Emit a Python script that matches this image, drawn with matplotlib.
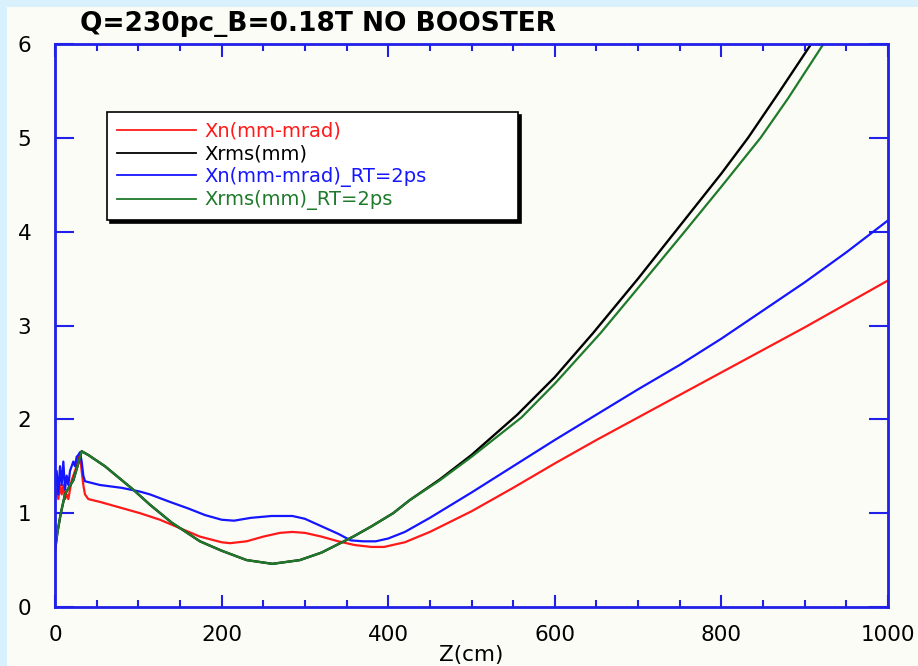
import matplotlib.pyplot as plt
from matplotlib.patches import Rectangle
from matplotlib.ticker import MultipleLocator

# beam size / emittance along z, with and without 2 ps rise time
z_xn = [0, 2, 4, 6, 8, 10, 12, 14, 16, 18, 20, 22, 24, 26, 28, 30, 32, 34, 36, 40,
        54, 70, 102, 126, 150, 174, 200, 210, 230, 250, 270, 285, 300, 320, 340, 360,
        380, 395, 420, 450, 500, 550, 600, 650, 700, 750, 800, 850, 900, 950, 1000]
xn = [1.15, 1.25, 1.15, 1.3, 1.2, 1.3, 1.15, 1.2, 1.15, 1.25, 1.35, 1.4, 1.45, 1.5, 1.6, 1.62, 1.45, 1.3, 1.2, 1.15,
      1.12, 1.08, 1.0, 0.93, 0.84, 0.75, 0.69, 0.68, 0.7, 0.75, 0.79, 0.8, 0.79, 0.75, 0.7, 0.66,
      0.64, 0.64, 0.69, 0.8, 1.02, 1.27, 1.53, 1.78, 2.02, 2.26, 2.5, 2.74, 2.98, 3.23, 3.48]

z_xn_rt = [0, 2, 4, 6, 8, 10, 12, 14, 16, 18, 20, 22, 24, 26, 28, 30, 32, 34, 36, 54,
           80, 102, 114, 138, 160, 180, 200, 215, 235, 260, 285, 300, 320, 340, 355, 370,
           385, 400, 420, 450, 500, 550, 600, 650, 700, 750, 800, 850, 900, 950, 1000]
xn_rt = [1.25, 1.45, 1.2, 1.5, 1.3, 1.55, 1.25, 1.4, 1.3, 1.45, 1.5, 1.55, 1.5, 1.6, 1.62, 1.65, 1.55, 1.4, 1.34, 1.3,
         1.27, 1.23, 1.2, 1.12, 1.05, 0.98, 0.93, 0.92, 0.95, 0.97, 0.97, 0.94, 0.86, 0.78, 0.71, 0.7,
         0.7, 0.73, 0.8, 0.95, 1.22, 1.5, 1.78, 2.05, 2.32, 2.58, 2.86, 3.16, 3.46, 3.78, 4.12]

z_xrms = [0, 3, 7, 12, 17, 22, 27, 32, 40, 60, 94, 114, 140, 174, 200, 230, 261, 294,
          320, 358, 380, 406, 426, 462, 500, 555, 600, 646, 700, 741, 800, 832, 868, 904, 910]
xrms = [0.6, 0.8, 1.0, 1.2, 1.28, 1.35, 1.5, 1.66, 1.62, 1.5, 1.25, 1.09, 0.9, 0.7, 0.6, 0.5, 0.46, 0.5,
        0.58, 0.75, 0.86, 1.0, 1.14, 1.36, 1.62, 2.05, 2.45, 2.92, 3.5, 3.96, 4.62, 5.0, 5.47, 5.95, 6.03]

z_xrms_rt = [0, 3, 7, 12, 17, 22, 27, 32, 40, 60, 94, 114, 140, 174, 200, 230, 261, 294,
             320, 358, 380, 406, 426, 462, 500, 560, 600, 655, 700, 754, 800, 847, 880, 921, 927]
xrms_rt = [0.6, 0.8, 1.0, 1.2, 1.28, 1.35, 1.5, 1.66, 1.62, 1.5, 1.25, 1.09, 0.9, 0.7, 0.6, 0.5, 0.46, 0.5,
           0.58, 0.75, 0.86, 1.0, 1.14, 1.35, 1.6, 2.02, 2.38, 2.92, 3.4, 3.98, 4.48, 5.0, 5.42, 5.98, 6.05]

panel = '#fcfcf7'
frame_blue = '#2020e8'
font = 'DejaVu Sans'

fig = plt.figure(figsize=(9.18, 6.66), dpi=100, facecolor=panel)
# light blue strips along the top and left edge
fig.patches.append(Rectangle((0, 0), 7 / 918, 1, transform=fig.transFigure,
                             facecolor='#d9f1fc', edgecolor='none', zorder=0))
fig.patches.append(Rectangle((0, 1 - 7 / 666), 1, 7 / 666, transform=fig.transFigure,
                             facecolor='#d9f1fc', edgecolor='none', zorder=0))

ax = fig.add_axes([55 / 918, 59 / 666, 833 / 918, 563 / 666])
ax.set_facecolor(panel)

ax.plot(z_xn, xn, color='#ff1a1a', lw=1.6, label='Xn(mm-mrad)')
ax.plot(z_xrms, xrms, color='black', lw=1.7, label='Xrms(mm)')
ax.plot(z_xn_rt, xn_rt, color='#1515ff', lw=1.6, label='Xn(mm-mrad)_RT=2ps')
ax.plot(z_xrms_rt, xrms_rt, color='#1f7a2a', lw=1.6, label='Xrms(mm)_RT=2ps')

ax.set_xlim(0, 1000)
ax.set_ylim(0, 6)
ax.xaxis.set_major_locator(MultipleLocator(200))
ax.xaxis.set_minor_locator(MultipleLocator(50))
ax.yaxis.set_major_locator(MultipleLocator(1))

for s in ax.spines.values():
    s.set_color(frame_blue)
    s.set_linewidth(2)

ax.tick_params(axis='x', which='major', direction='in', length=9, width=1.5,
               color=frame_blue, top=True, labelsize=15.5, pad=13)
ax.tick_params(axis='x', which='minor', direction='in', length=5, width=1.5,
               color=frame_blue, top=True)
ax.tick_params(axis='y', which='major', direction='in', length=14, width=1.5,
               color=frame_blue, right=True, labelsize=15.5, pad=17)
for lab in ax.get_xticklabels() + ax.get_yticklabels():
    lab.set_fontfamily(font)

ax.set_xlabel('Z(cm)', fontsize=15.5, family=font, labelpad=0)

fig.text(80 / 918, 1 - 24 / 666, 'Q=230pc_B=0.18T NO BOOSTER', fontsize=19,
         fontweight='bold', family=font, va='center', ha='left')

# legend frame stretched to a fixed width, text in the line colour
leg = ax.legend(loc='upper left', bbox_to_anchor=(0.0624, 0.879, 0.4934, 0.0),
                mode='expand', borderaxespad=0,
                prop={'family': font, 'size': 14}, fancybox=False,
                edgecolor='black', framealpha=1, facecolor='white',
                handlelength=4.1, handletextpad=0.4, labelspacing=0.18,
                borderpad=0.5, shadow={'color': 'black', 'alpha': 1})
leg.get_frame().set_linewidth(1.2)
for text, line in zip(leg.get_texts(), leg.get_lines()):
    text.set_color(line.get_color())
    line.set_linewidth(1.3)

fig.savefig('out.png', dpi=100, facecolor=panel)
